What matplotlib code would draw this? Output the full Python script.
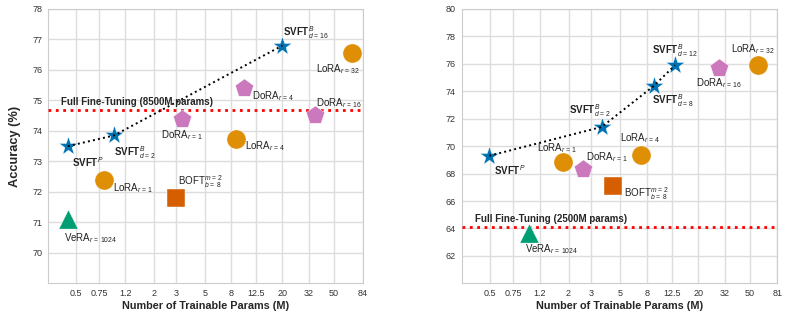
#PEFT comparison: accuracy vs trainable params (two panels)

import numpy as np
import matplotlib
matplotlib.use('Agg')
import matplotlib.pyplot as plt
import seaborn as sns

sns.set_style('whitegrid')
plt.rcParams['font.family'] = ['Liberation Sans', 'DejaVu Sans']
plt.rcParams['mathtext.fontset'] = 'custom'
plt.rcParams['mathtext.rm'] = 'Liberation Sans'
plt.rcParams['mathtext.it'] = 'Liberation Sans:italic'
plt.rcParams['mathtext.bf'] = 'Liberation Sans:bold'

#colours (seaborn colorblind)
c_svft = '#0173B2'
c_lora = '#DE8F05'
c_dora = '#CC78BC'
c_boft = '#D55E00'
c_vera = '#029E73'

#left panel data
L_svft_x = [0.43, 0.98, 20.0]
L_svft_y = [73.5, 73.85, 76.8]
L_lora_x = [0.82, 8.7, 70.0]
L_lora_y = [72.4, 73.75, 76.56]
L_dora_x = [3.3, 10.0, 36.0]
L_dora_y = [74.38, 75.42, 74.52]
L_boft_x = [3.0]
L_boft_y = [71.8]
L_vera_x = [0.43]
L_vera_y = [71.1]
L_fullft = 74.68
L_xticks = [0.5, 0.75, 1.2, 2, 3, 5, 8, 12.5, 20, 32, 50, 84]
L_yticks = [70, 71, 72, 73, 74, 75, 76, 77, 78]

#right panel data
R_svft_x = [0.49, 3.6, 9.1, 13.2]
R_svft_y = [69.3, 71.4, 74.4, 75.9]
R_lora_x = [1.8, 7.2, 57.6]
R_lora_y = [68.85, 69.35, 75.9]
R_dora_x = [2.6, 29.0]
R_dora_y = [68.3, 75.67]
R_boft_x = [4.4]
R_boft_y = [67.1]
R_vera_x = [1.0]
R_vera_y = [63.7]
R_fullft = 64.1
R_xticks = [0.5, 0.75, 1.2, 2, 3, 5, 8, 12.5, 20, 32, 50, 81]
R_yticks = [62, 64, 66, 68, 70, 72, 74, 76, 78, 80]

#labels: (text, x, y, dx px, dy px, ha)
L_labels = [
    (r'$\mathbf{SVFT}^{P}$', 0.43, 73.5, 4, -16, 'left'),
    (r'$\mathbf{SVFT}^{B}_{d\,=\,2}$', 0.98, 73.85, 0, -17, 'left'),
    (r'$\mathbf{SVFT}^{B}_{d\,=\,16}$', 20.0, 76.8, 1, 13, 'left'),
    (r'LoRA$_{r\,=\,32}$', 70.0, 76.56, -14, -16, 'center'),
    (r'LoRA$_{r\,=\,4}$', 8.7, 73.75, 9, -8, 'left'),
    (r'LoRA$_{r\,=\,1}$', 0.82, 72.4, 9, -8, 'left'),
    (r'DoRA$_{r\,=\,1}$', 3.3, 74.38, 0, -16, 'center'),
    (r'DoRA$_{r\,=\,4}$', 10.0, 75.42, 8, -8, 'left'),
    (r'DoRA$_{r\,=\,16}$', 36.0, 74.52, 1, 12, 'left'),
    (r'BOFT$^{m\,=\,2}_{b\,=\,8}$', 3.0, 71.8, 2, 16, 'left'),
    (r'VeRA$_{r\,=\,1024}$', 0.43, 71.1, -4, -19, 'left'),
]
R_labels = [
    (r'$\mathbf{SVFT}^{P}$', 0.49, 69.3, 5, -14, 'left'),
    (r'$\mathbf{SVFT}^{B}_{d\,=\,2}$', 3.6, 71.4, -11, 16, 'center'),
    (r'$\mathbf{SVFT}^{B}_{d\,=\,8}$', 9.1, 74.4, -2, -15, 'left'),
    (r'$\mathbf{SVFT}^{B}_{d\,=\,12}$', 13.2, 75.9, 0, 15, 'center'),
    (r'LoRA$_{r\,=\,1}$', 1.8, 68.85, -5, 14, 'center'),
    (r'LoRA$_{r\,=\,4}$', 7.2, 69.35, 0, 17, 'center'),
    (r'LoRA$_{r\,=\,32}$', 57.6, 75.9, -5, 16, 'center'),
    (r'DoRA$_{r\,=\,1}$', 2.6, 68.3, 3, 12, 'left'),
    (r'DoRA$_{r\,=\,16}$', 29.0, 75.67, 0, -15, 'center'),
    (r'BOFT$^{m\,=\,2}_{b\,=\,8}$', 4.4, 67.1, 11, -8, 'left'),
    (r'VeRA$_{r\,=\,1024}$', 1.0, 63.7, -4, -17, 'left'),
]


def draw_panel(ax, d, labels, fullft, fft_text, xlim, ylim, xticks, yticks):
    svx, svy, lox, loy, dox, doy, box, boy, vex, vey = d
    ax.set_xscale('log')
    ax.plot(svx, svy, ':', color='black', lw=1.4, zorder=5)
    ax.scatter(svx, svy, marker='*', s=200, color=c_svft, edgecolor='white', linewidth=0.3, zorder=4)
    ax.scatter(lox, loy, marker='o', s=190, color=c_lora, edgecolor='white', linewidth=0.3, zorder=4)
    ax.scatter(dox, doy, marker='p', s=190, color=c_dora, edgecolor='white', linewidth=0.3, zorder=4)
    ax.scatter(box, boy, marker='s', s=150, color=c_boft, edgecolor='white', linewidth=0.3, zorder=4)
    ax.scatter(vex, vey, marker='^', s=190, color=c_vera, edgecolor='white', linewidth=0.3, zorder=4)
    ax.axhline(fullft, color='red', ls=':', lw=2, zorder=3)
    ax.text(0.38, fullft + (ylim[1] - ylim[0]) * 0.012, fft_text, fontsize=7,
            fontweight='bold', va='bottom', ha='left', zorder=6)
    for t, x, y, dx, dy, ha in labels:
        ax.annotate(t, (x, y), xytext=(dx, dy), textcoords='offset pixels',
                    fontsize=7, ha=ha, va='center', color='#222222', zorder=6)
    ax.set_xlim(xlim)
    ax.set_ylim(ylim)
    ax.set_xticks(xticks)
    ax.set_xticklabels([str(v) for v in xticks])
    ax.minorticks_off()
    ax.set_yticks(yticks)
    ax.tick_params(labelsize=6.5, colors='#333333', pad=4, length=0)
    ax.grid(True, color='#dddddd', lw=1.0)
    for s in ax.spines.values():
        s.set_color('#cccccc')
        s.set_linewidth(0.8)
    ax.set_xlabel('Number of Trainable Params (M)', fontsize=7.8, fontweight='bold', labelpad=2)


fig = plt.figure(figsize=(7.89, 3.18), dpi=100)
ax1 = fig.add_axes([0.0605, 0.109, 0.399, 0.8627])
ax2 = fig.add_axes([0.585, 0.109, 0.400, 0.8627])

draw_panel(ax1, (L_svft_x, L_svft_y, L_lora_x, L_lora_y, L_dora_x, L_dora_y,
                 L_boft_x, L_boft_y, L_vera_x, L_vera_y),
           L_labels, L_fullft, 'Full Fine-Tuning (8500M params)',
           (0.3, 84), (69, 78), L_xticks, L_yticks)
ax1.set_ylabel('Accuracy (%)', fontsize=9.2, fontweight='bold', labelpad=8)

draw_panel(ax2, (R_svft_x, R_svft_y, R_lora_x, R_lora_y, R_dora_x, R_dora_y,
                 R_boft_x, R_boft_y, R_vera_x, R_vera_y),
           R_labels, R_fullft, 'Full Fine-Tuning (2500M params)',
           (0.3, 81), (60, 80), R_xticks, R_yticks)

fig.savefig('out.png', dpi=100)
